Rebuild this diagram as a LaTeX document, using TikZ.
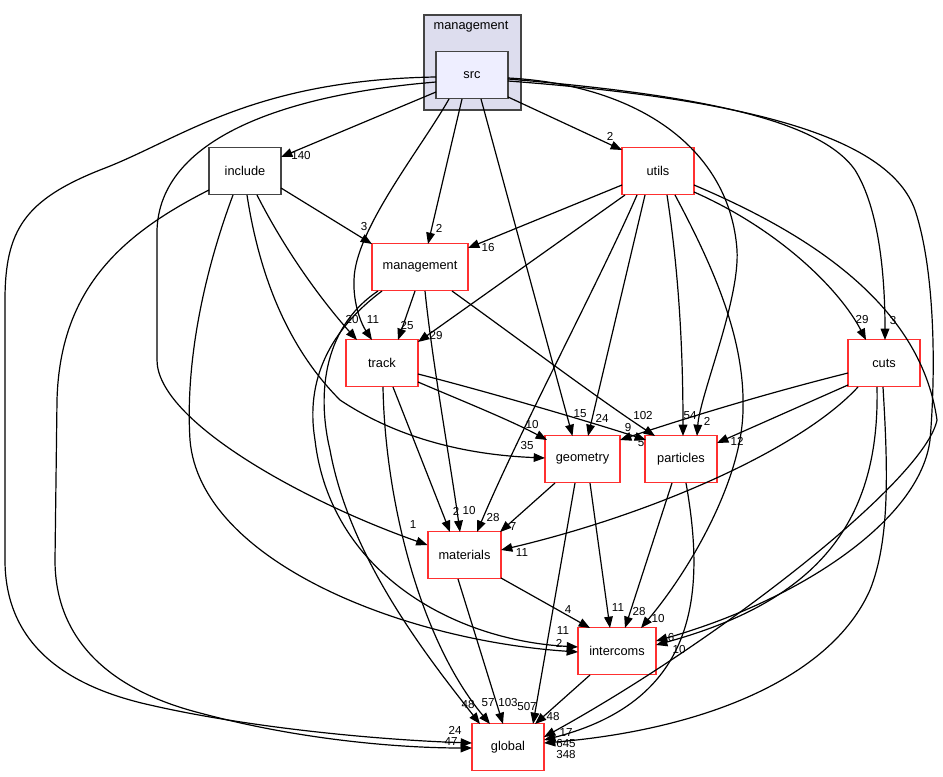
\documentclass[tikz,border=0pt]{standalone}
\usepackage{fontspec}
\setmainfont{Liberation Sans}
\usetikzlibrary{arrows.meta,calc}
\definecolor{clfill}{HTML}{DDDDEE}
\definecolor{srcfill}{HTML}{EEEEFF}
\definecolor{bord}{HTML}{444444}
\definecolor{dred}{HTML}{FF3030}
\begin{document}
\begin{tikzpicture}[x=0.75pt,y=-0.75pt,
  dirbox/.style={draw=dred, line width=1.1pt, fill=white, minimum width=54pt, minimum height=35.25pt, inner sep=0pt, font=\fontsize{9.6}{11}\selectfont},
  plainbox/.style={dirbox, draw=bord},
  srcbox/.style={dirbox, draw=bord, fill=srcfill},
  clusterbox/.style={draw=bord, line width=1pt, fill=clfill, minimum width=72.75pt, minimum height=71.25pt, inner sep=0pt},
  e/.style={draw=black, line width=0.9pt, -{Triangle[length=8.5pt,width=6.5pt]}},
  lbl/.style={font=\fontsize{8.7}{10}\selectfont, inner sep=0pt}]
\useasboundingbox (0,0) rectangle (943,777);
\fill[white] (0,0) rectangle (943,777);

% cluster
\node[clusterbox] (cl) at (472.5,62.5) {};
\node[font=\fontsize{9.6}{11}\selectfont, inner sep=0pt] (cltitle) at (471,27) {management};

% nodes
\node[srcbox] (src) at (472,75) {src};
\node[plainbox] (include) at (245,171) {include};
\node[dirbox, minimum width=72pt] (management) at (420,267) {management};
\node[dirbox] (utils) at (658,171) {utils};
\node[dirbox] (track) at (382,363) {track};
\node[dirbox] (cuts) at (884,363) {cuts};
\node[dirbox, minimum width=56.25pt] (geometry) at (582.5,459) {geometry};
\node[dirbox] (particles) at (681,459) {particles};
\node[dirbox, minimum width=54.75pt] (materials) at (464.5,555) {materials};
\node[dirbox, minimum width=58.5pt] (intercoms) at (617,651) {intercoms};
\node[dirbox] (global) at (508,747) {global};

% edges from src
\draw[e] ($(src)+(-36,17)$) -- ($(include)+(36,-14)$) node[lbl,at={(301,156)}] {140};
\draw[e] ($(src)+(-10,24)$) -- ($(management)+(8,-23)$) node[lbl,at={(439,228)}] {2};
\draw[e] ($(src)+(36,22)$) -- ($(utils)+(-36,-21)$) node[lbl,at={(610,136)}] {2};
\draw[e] ($(src)+(-23,24)$) .. controls (420,150) and (355,230) .. (354,280) .. controls (353,305) and (362,325) .. ($(track)+(-10,-23)$) node[lbl,at={(373,320)}] {11};
\draw[e] ($(src)+(9,24)$) -- ($(geometry)+(-10,-23)$) node[lbl,at={(580,414)}] {15};
\draw[e] ($(src)+(36,3)$) .. controls (640,85) and (730,150) .. (737,250) .. controls (740,300) and (700,395) .. ($(particles)+(16,-23)$) node[lbl,at={(707,421)}] {2};
\draw[e] ($(src)+(36,4)$) .. controls (700,95) and (820,120) .. (855,170) .. controls (880,210) and (885,280) .. ($(cuts)+(1,-23)$) node[lbl,at={(893,321)}] {3};
\draw[e] ($(src)+(36,6)$) .. controls (760,100) and (890,140) .. (915,210) .. controls (935,270) and (936,370) .. (930,440) .. controls (920,520) and (800,600) .. ($(intercoms)+(39,-10)$) node[lbl,at={(671,638)}] {6};
\draw[e] ($(src)+(-36,7)$) .. controls (280,95) and (160,140) .. (157,230) -- (157,360) .. controls (157,420) and (300,500) .. ($(materials)+(-37,-10)$) node[lbl,at={(413,525)}] {1};
\draw[e] ($(src)+(-36,2)$) .. controls (250,80) and (180,140) .. (100,170) .. controls (25,200) and (5,230) .. (5,300) -- (5,560) .. controls (5,640) and (60,685) .. (150,705) .. controls (250,728) and (380,740) .. ($(global)+(-36,-4)$) node[lbl,at={(455,730)}] {24};

% edges from include
\draw[e] ($(include)+(36,17)$) -- ($(management)+(-48,-23)$) node[lbl,at={(364,227)}] {3};
\draw[e] ($(include)+(12,24)$) .. controls (290,260) and (330,310) .. ($(track)+(-25,-23)$) node[lbl,at={(352,320)}] {20};
\draw[e] ($(include)+(2,24)$) .. controls (260,280) and (290,350) .. (340,400) .. controls (400,440) and (470,455) .. ($(geometry)+(-37.5,-1)$) node[lbl,at={(527,446)}] {35};
\draw[e] ($(include)+(-12,24)$) .. controls (205,270) and (185,360) .. (190,440) .. controls (200,560) and (400,640) .. ($(intercoms)+(-39,1)$) node[lbl,at={(559,643)}] {2};
\draw[e] ($(include)+(-36,19)$) .. controls (120,235) and (60,290) .. (57,400) -- (55,560) .. controls (55,640) and (110,690) .. (200,713) .. controls (300,740) and (400,748) .. ($(global)+(-36,1)$) node[lbl,at={(451,742)}] {47};

% edges from management
\draw[e] ($(management)+(-5,24)$) -- ($(track)+(16,-23)$) node[lbl,at={(407,326)}] {25};
\draw[e] ($(management)+(5,24)$) .. controls (432,360) and (450,460) .. ($(materials)+(-4.5,-23)$) node[lbl,at={(469,511)}] {10};
\draw[e] ($(management)+(32,24)$) .. controls (520,340) and (600,400) .. ($(particles)+(-26,-23)$) node[lbl,at={(643,416)}] {102};
\draw[e] ($(management)+(-42,24)$) .. controls (320,330) and (318,400) .. (330,450) .. controls (350,560) and (430,660) .. ($(global)+(-28,-23)$) node[lbl,at={(468,705)}] {48};
\draw[e] ($(management)+(-38,24)$) .. controls (330,330) and (305,380) .. (315,440) .. controls (330,570) and (450,640) .. ($(intercoms)+(-39,-4)$) node[lbl,at={(563,631)}] {11};

% edges from utils
\draw[e] ($(utils)+(-36,14)$) -- ($(management)+(48,-19)$) node[lbl,at={(488,248)}] {16};
\draw[e] ($(utils)+(-33,24)$) -- ($(track)+(36,-21)$) node[lbl,at={(436,336)}] {29};
\draw[e] ($(utils)+(-21,24)$) .. controls (600,280) and (520,430) .. ($(materials)+(12.5,-23)$) node[lbl,at={(493,518)}] {28};
\draw[e] ($(utils)+(-13,24)$) -- ($(geometry)+(5.5,-23)$) node[lbl,at={(602,418)}] {24};
\draw[e] ($(utils)+(9,24)$) .. controls (680,280) and (683,360) .. ($(particles)+(2,-23)$) node[lbl,at={(690,416)}] {54};
\draw[e] ($(utils)+(17,24)$) .. controls (715,270) and (745,340) .. (743,410) .. controls (742,480) and (690,570) .. ($(intercoms)+(24,-23)$) node[lbl,at={(658,619)}] {10};
\draw[e] ($(utils)+(36,21)$) .. controls (780,230) and (840,290) .. ($(cuts)+(-18,-23)$) node[lbl,at={(862,320)}] {29};
\draw[e] ($(utils)+(36,14)$) .. controls (800,230) and (920,300) .. (937,420) .. controls (925,480) and (720,640) .. ($(global)+(36,-10)$) node[lbl,at={(566,744)}] {645};

% edges from track
\draw[e] ($(track)+(36,19)$) .. controls (460,400) and (510,420) .. ($(geometry)+(-35.5,-19)$) node[lbl,at={(532,425)}] {10};
\draw[e] ($(track)+(36,11)$) .. controls (500,395) and (600,425) .. ($(particles)+(-35,-19)$) node[lbl,at={(641,443)}] {5};
\draw[e] ($(track)+(11,24)$) -- ($(materials)+(-14.5,-23)$) node[lbl,at={(456,511)}] {2};
\draw[e] ($(track)+(1,24)$) .. controls (385,500) and (420,640) .. ($(global)+(-18,-23)$) node[lbl,at={(488,703)}] {57};

% edges from cuts
\draw[e] ($(cuts)+(-36,10)$) .. controls (760,395) and (680,420) .. ($(geometry)+(37.5,-19)$) node[lbl,at={(628,428)}] {9};
\draw[e] ($(cuts)+(-36,22)$) -- ($(particles)+(36,-16)$) node[lbl,at={(737,441)}] {12};
\draw[e] ($(cuts)+(-26,24)$) .. controls (800,450) and (650,515) .. ($(materials)+(36.5,-5)$) node[lbl,at={(522,553)}] {11};
\draw[e] ($(cuts)+(-7,24)$) .. controls (880,520) and (820,600) .. ($(intercoms)+(39,-6)$) node[lbl,at={(679,650)}] {10};
\draw[e] ($(cuts)+(-1,24)$) .. controls (888,470) and (890,540) .. (870,590) .. controls (830,680) and (700,730) .. ($(global)+(36,-4)$) node[lbl,at={(566,755)}] {348};

% edges from geometry
\draw[e] ($(geometry)+(-27.5,24)$) -- ($(materials)+(35.5,-23)$) node[lbl,at={(513,527)}] {7};
\draw[e] ($(geometry)+(-7.5,24)$) -- ($(global)+(25,-23)$) node[lbl,at={(527,707)}] {507};
\draw[e] ($(geometry)+(7.5,24)$) -- ($(intercoms)+(-7,-23)$) node[lbl,at={(618,608)}] {11};

% edges from particles
\draw[e] ($(particles)+(-9,24)$) -- ($(intercoms)+(8,-23)$) node[lbl,at={(639,612)}] {28};
\draw[e] ($(particles)+(5,24)$) .. controls (705,590) and (700,700) .. ($(global)+(36,-7)$) node[lbl,at={(566,733)}] {17};

% edges from materials
\draw[e] ($(materials)+(36.5,23)$) -- ($(intercoms)+(-27,-23)$) node[lbl,at={(568,610)}] {4};
\draw[e] ($(materials)+(-6.5,24)$) -- ($(global)+(-5,-23)$) node[lbl,at={(508,703)}] {103};

% edges from intercoms
\draw[e] ($(intercoms)+(-27,24)$) -- ($(global)+(27,-23)$) node[lbl,at={(553,717)}] {48};
\end{tikzpicture}
\end{document}
